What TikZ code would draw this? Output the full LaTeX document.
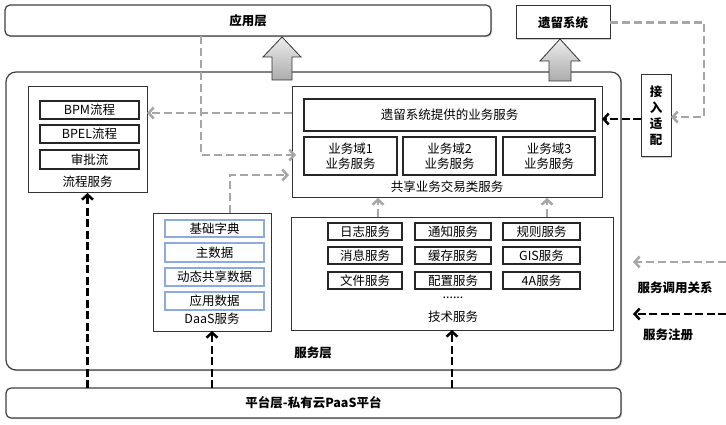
\documentclass[tikz,border=0pt]{standalone}
\usepackage{fontspec}
\setmainfont{Noto Sans CJK SC}
\usetikzlibrary{arrows.meta,shadows,calc}
\definecolor{lgray}{RGB}{166,166,166}
\definecolor{lblue}{RGB}{142,169,219}
\begin{document}
\begin{tikzpicture}[x=1pt,y=-1pt,
  font=\fontsize{12.5}{15}\selectfont,
  every node/.style={inner sep=0pt, outer sep=0pt},
  layer/.style={draw=black!75, line width=1.2pt, fill=white, rounded corners=7pt, anchor=north west,
     drop shadow={shadow xshift=1.2pt, shadow yshift=-1.2pt, opacity=0.35, fill=black!60}},
  panel/.style={draw=black!80, line width=1pt, fill=white, anchor=north west},
  spanel/.style={panel, drop shadow={shadow xshift=1.2pt, shadow yshift=-1.2pt, opacity=0.35, fill=black!60}},
  item/.style={draw=black!85, line width=1.3pt, fill=white, anchor=north west, align=center},
  bitem/.style={draw=lblue, line width=1.3pt, fill=white, anchor=north west},
  lbl/.style={anchor=center},
  gdash/.style={draw=lgray, line width=2.5pt, dash pattern=on 8pt off 4pt, -{Straight Barb[length=5pt,width=11pt]}},
  bdash/.style={draw=black, line width=2.5pt, dash pattern=on 8pt off 3.5pt, -{Straight Barb[length=5pt,width=11pt]}},
  blockarrow/.style={draw=black!80, line width=0.8pt, top color=gray!15, bottom color=gray!65}
]
\useasboundingbox (0,0) rectangle (726,425);

% layers
\node[layer, rounded corners=5pt, minimum width=486pt, minimum height=31pt] (app) at (5,5) {\bfseries 应用层};
\node[spanel, minimum width=94pt, minimum height=33pt] (legacy) at (516,6) {\bfseries 遗留系统};
\node[layer, rounded corners=10pt, minimum width=615pt, minimum height=298pt] (svc) at (6,72) {};
\node[lbl] (svclbl) at (313,353) {\bfseries 服务层};
\node[layer, rounded corners=5pt, minimum width=615pt, minimum height=30pt] (plat) at (6,388) {\bfseries 平台层-私有云PaaS平台};

% block arrows
\draw[blockarrow] (282,37) -- (301,57) -- (292,57) -- (292,80) -- (272,80) -- (272,57) -- (263,57) -- cycle;
\draw[blockarrow] (560,39) -- (580,61) -- (571,61) -- (571,81) -- (549,81) -- (549,61) -- (540,61) -- cycle;

% flow service
\node[panel, minimum width=119pt, minimum height=106pt] (flow) at (28,87) {};
\node[item, minimum width=99pt, minimum height=18pt] (bpm) at (40,101) {BPM流程};
\node[item, minimum width=99pt, minimum height=18pt] (bpel) at (40,125) {BPEL流程};
\node[item, minimum width=99pt, minimum height=19pt] (appr) at (40,150) {审批流};
\node[lbl] (flowlbl) at (87.5,182) {流程服务};

% shared business service
\node[panel, minimum width=310pt, minimum height=111pt] (share) at (292,87) {};
\node[item, minimum width=291pt, minimum height=32pt] (legsvc) at (304,99) {遗留系统提供的业务服务};
\node[item, minimum width=93pt, minimum height=38pt] (d1) at (304,137) {业务域1\\业务服务};
\node[item, minimum width=93pt, minimum height=38pt] (d2) at (403,137) {业务域2\\业务服务};
\node[item, minimum width=92pt, minimum height=38pt] (d3) at (503,137) {业务域3\\业务服务};
\node[lbl] (sharelbl) at (447,187) {共享业务交易类服务};

% access adapter
\node[spanel, minimum width=30pt, minimum height=82pt, align=center, font=\fontsize{12.5}{16}\selectfont\bfseries] (adapt) at (641,75) {接\\入\\适\\配};

% DaaS
\node[panel, minimum width=118pt, minimum height=118pt] (daas) at (153,213) {};
\node[bitem, minimum width=99pt, minimum height=17pt] (dict) at (165,220) {基础字典};
\node[bitem, minimum width=99pt, minimum height=19pt] (mdata) at (165,243) {主数据};
\node[bitem, minimum width=99pt, minimum height=18pt] (dyn) at (165,268) {动态共享数据};
\node[bitem, minimum width=99pt, minimum height=18pt] (adata) at (165,292) {应用数据};
\node[lbl] (daaslbl) at (212,319) {DaaS服务};

% tech service
\node[panel, minimum width=322pt, minimum height=113pt] (tech) at (291,217) {};
\node[item, minimum width=74pt, minimum height=17pt] (t11) at (328,223) {日志服务};
\node[item, minimum width=76pt, minimum height=17pt] (t12) at (415,223) {通知服务};
\node[item, minimum width=77pt, minimum height=17pt] (t13) at (503,223) {规则服务};
\node[item, minimum width=74pt, minimum height=17pt] (t21) at (328,247) {消息服务};
\node[item, minimum width=76pt, minimum height=17pt] (t22) at (415,247) {缓存服务};
\node[item, minimum width=77pt, minimum height=17pt] (t23) at (503,247) {GIS服务};
\node[item, minimum width=74pt, minimum height=17pt] (t31) at (328,272) {文件服务};
\node[item, minimum width=76pt, minimum height=17pt] (t32) at (415,272) {配置服务};
\node[item, minimum width=77pt, minimum height=17pt] (t33) at (503,272) {4A服务};
\node[lbl] (dots) at (453,298) {......};
\node[lbl] (techlbl) at (453,317) {技术服务};

% legend
\node[lbl, font=\fontsize{12.5}{15}\selectfont\bfseries] (lg1) at (675,288) {服务调用关系};
\node[lbl, font=\fontsize{12.5}{15}\selectfont\bfseries] (lg2) at (668,335) {服务注册};

% helper coordinates
\coordinate (c201) at (201,0);
\coordinate (c230) at (230,0);
\coordinate (c378) at (378,0);
\coordinate (c547) at (547,0);
\coordinate (y113) at (0,113);
\coordinate (y155) at (0,155);
\coordinate (y175) at (0,175);
\coordinate (y119) at (0,119);
\coordinate (turn) at (704,117);
\coordinate (lg1s) at (726,262);
\coordinate (lg1e) at (633,262);
\coordinate (lg2s) at (726,314);
\coordinate (lg2e) at (633,314);

% gray service-call connectors
\draw[gdash] (app.south -| c201) |- ([xshift=4pt]share.west |- y155);
\draw[gdash] (share.west |- y113) -- (flow.east |- y113);
\draw[gdash] (daas.north -| c230) |- ([xshift=-3pt]share.west |- y175);
\draw[gdash] (tech.north -| c378) -- (share.south -| c378);
\draw[gdash] (tech.north -| c547) -- (share.south -| c547);
\draw[gdash] (legacy.east) -| (turn) -- (adapt.east |- turn);
\draw[gdash] (lg1s) -- (lg1e);

% black registration connectors
\draw[bdash] (adapt.west |- y119) -- (share.east |- y119);
\draw[bdash] (plat.north -| flow.south) -- (flow.south);
\draw[bdash] (plat.north -| daas.south) -- (daas.south);
\draw[bdash] (plat.north -| tech.south) -- (tech.south);
\draw[bdash] (lg2s) -- (lg2e);
\end{tikzpicture}
\end{document}
